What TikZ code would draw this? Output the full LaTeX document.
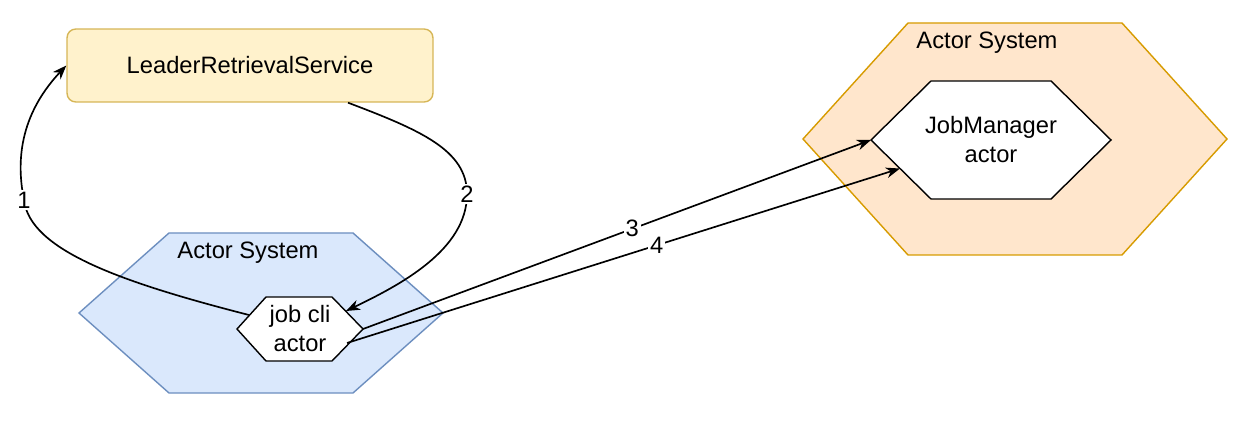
\documentclass[tikz,border=0pt]{standalone}
\usepackage{fontspec}
\setmainfont{Liberation Sans}
\usepackage{xcolor}
\usepackage{tikz}
\usetikzlibrary{
  positioning, arrows.meta
}
\definecolor{lrsfill}{HTML}{FFF2CC}
\definecolor{lrsline}{HTML}{D6B656}
\definecolor{clientfill}{HTML}{DAE8FC}
\definecolor{clientline}{HTML}{6C8EBF}
\definecolor{jmfill}{HTML}{FFE6CC}
\definecolor{jmline}{HTML}{D79B00}
\tikzset{
  txt/.style={font=\fontsize{13.5}{16.5}\selectfont},
  service/.style={
    draw=lrsline, fill=lrsfill, rounded corners=5pt, line width=0.8pt,
    minimum width=7.32cm, minimum height=1.46cm,
    align=center, txt
  },
  hexagon/.style={draw=#1, line width=0.8pt, line join=miter},
  actorname/.style={align=center, inner sep=1pt, txt},
  arrow/.style={-{Stealth[length=8pt, width=6pt, inset=2.5pt]}, line width=0.95pt},
  lbl/.style={fill=white, inner sep=1pt, txt}
}

\begin{document}
\begin{tikzpicture}[x=0.02cm, y=-0.02cm]
\useasboundingbox (0,0) rectangle (1248,422);

%% ── Leader retrieval service ─────────────────────────────────
\node[service] (lrs) at (250,65.5) {LeaderRetrievalService};

%% ── Client actor system ──────────────────────────────────────
\draw[hexagon=clientline, fill=clientfill]
  (79,313) -- (169,233) -- (353,233) -- (443,313) -- (353,393) -- (169,393) -- cycle;
\node[txt] (clientlbl) at (248,253) {Actor System};

\draw[hexagon=black, fill=white]
  (237,329) -- (266,297) -- (332,297) -- (363,329) -- (332,361) -- (266,361) -- cycle;
\node[actorname] (jobcli) at (300,329) {job cli\\actor};
\coordinate (jobcli-nw) at (249,315);
\coordinate (jobcli-ne) at (346,311);
\coordinate (jobcli-e) at (363,329);
\coordinate (jobcli-se) at (347,343);

%% ── JobManager actor system ──────────────────────────────────
\draw[hexagon=jmline, fill=jmfill]
  (803,139) -- (908,23) -- (1122,23) -- (1227,139) -- (1122,255) -- (908,255) -- cycle;
\node[txt] (jmlbl) at (987,43) {Actor System};

\draw[hexagon=black, fill=white]
  (871,140) -- (931,81) -- (1051,81) -- (1111,140) -- (1051,199) -- (931,199) -- cycle;
\node[actorname] (jobmgr) at (991,140) {JobManager\\actor};
\coordinate (jobmgr-w) at (871,140);
\coordinate (jobmgr-sw) at (900,168.5);

%% ── Messages ─────────────────────────────────────────────────
\draw[arrow] (jobcli-nw) .. controls (120,282) and (30,250) .. (24,200) node[lbl] {1}
  .. controls (18,170) and (15,120) .. (lrs.west);
\draw[arrow] (lrs) .. controls (420,130) and (467,150) .. (467,194) node[lbl] {2}
  .. controls (467,250) and (400,285) .. (jobcli-ne);
\draw[arrow] (jobcli-e) -- node[lbl, pos=0.53] {3} (jobmgr-w);
\draw[arrow] (jobcli-se) -- node[lbl, pos=0.56] {4} (jobmgr-sw);

\end{tikzpicture}
\end{document}
